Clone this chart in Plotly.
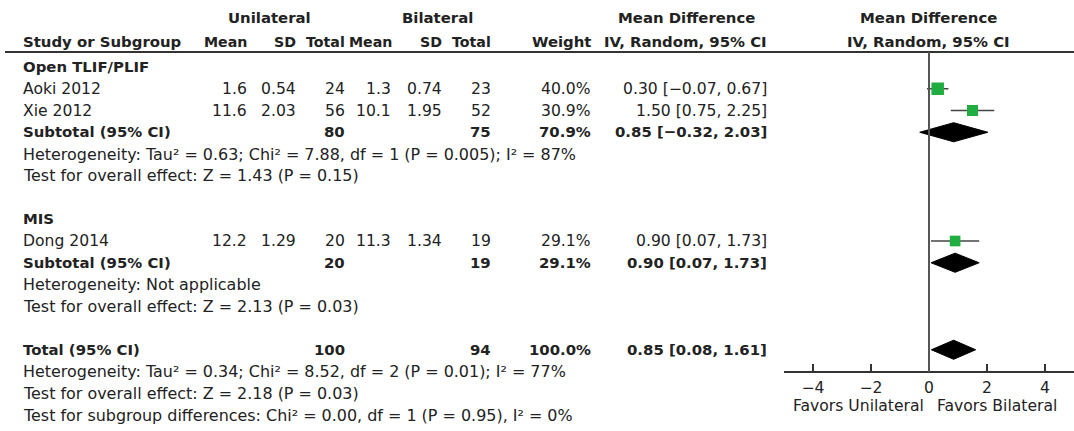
import plotly.graph_objects as go

# ---- study-level data -------------------------------------------------
studies = ["Aoki 2012", "Xie 2012", "Dong 2014"]
study_group = [0, 0, 1]
uni_mean = [1.6, 11.6, 12.2]
uni_sd = [0.54, 2.03, 1.29]
uni_n = [24, 56, 20]
bi_mean = [1.3, 10.1, 11.3]
bi_sd = [0.74, 1.95, 1.34]
bi_n = [23, 52, 19]
weight = [40.0, 30.9, 29.1]
md = [0.30, 1.50, 0.90]
md_lo = [-0.07, 0.75, 0.07]
md_hi = [0.67, 2.25, 1.73]

# ---- subgroup summaries -----------------------------------------------
groups = ["Open TLIF/PLIF", "MIS"]
sub_uni_n = [80, 20]
sub_bi_n = [75, 19]
sub_weight = [70.9, 29.1]
sub_md = [0.85, 0.90]
sub_lo = [-0.32, 0.07]
sub_hi = [2.03, 1.73]
sub_het = [
    "Heterogeneity: Tau² = 0.63; Chi² = 7.88, df = 1 (P = 0.005); I² = 87%",
    "Heterogeneity: Not applicable",
]
sub_test = [
    "Test for overall effect: Z = 1.43 (P = 0.15)",
    "Test for overall effect: Z = 2.13 (P = 0.03)",
]

# ---- overall summary --------------------------------------------------
total_uni_n = 100
total_bi_n = 94
total_weight = 100.0
total_md = 0.85
total_lo = 0.08
total_hi = 1.61
total_notes = [
    "Heterogeneity: Tau² = 0.34; Chi² = 8.52, df = 2 (P = 0.01); I² = 77%",
    "Test for overall effect: Z = 2.18 (P = 0.03)",
    "Test for subgroup differences: Chi² = 0.00, df = 1 (P = 0.95), I² = 0%",
]

axis_ticks = [-4, -2, 0, 2, 4]
favours = ["Favors Unilateral", "Favors Bilateral"]

# ---- layout constants -------------------------------------------------
W, H = 1074, 431
ROW0, PITCH = 67, 21.75          # pixel centre of first row, row pitch
FONT = "DejaVu Sans"
FS = 15.6                        # regular table text
FSN = 15.95                      # footnote lines
FSB = 14.9                       # bold text
FSC = 14.2                       # bold column names (Mean / SD / Total)
TXT = "#222222"
GREEN = "#1fae3f"

# column anchors (pixels)
COL_STUDY = 21
COL_UMEAN, COL_USD, COL_UN = 249, 298, 347
COL_BMEAN, COL_BSD, COL_BN = 393, 444, 493
COL_W = 593
COL_CI = 769

HEADER_LINE_Y = 52
AXIS_Y = 372


def px_x(p):
    return p / W


def px_y(p):
    return 1 - p / H


def fmt(v, nd):
    return f"{v:.{nd}f}".replace("-", "−")


def ci_text(m, lo, hi):
    return f"{fmt(m, 2)} [{fmt(lo, 2)}, {fmt(hi, 2)}]"


annotations = []


def text(x, row, s, anchor="left", bold=False, size=None):
    if size is None:
        size = FSB if bold else FS
    annotations.append(dict(
        x=px_x(x), xref="paper", y=row, yref="y",
        text=f"<b>{s}</b>" if bold else s,
        xanchor=anchor, yanchor="middle", showarrow=False,
        font=dict(family=FONT, size=size, color=TXT),
    ))


def header(x, ypix, s, anchor="center", size=FSB):
    annotations.append(dict(
        x=px_x(x), xref="paper", y=px_y(ypix), yref="paper",
        text=f"<b>{s}</b>", xanchor=anchor, yanchor="middle",
        showarrow=False, font=dict(family=FONT, size=size, color=TXT),
    ))


# header block
header(269, 18, "Unilateral")
header(437, 18, "Bilateral")
header(686, 18, "Mean Difference")
header(928, 18, "Mean Difference")
header(COL_STUDY, 42, "Study or Subgroup", "left")
header(COL_UMEAN, 42, "Mean", "right", FSC)
header(COL_USD, 42, "SD", "right", FSC)
header(COL_UN, 42, "Total", "right", FSC)
header(COL_BMEAN + 1, 42, "Mean", "right", FSC)
header(COL_BSD, 42, "SD", "right", FSC)
header(COL_BN, 42, "Total", "right", FSC)
header(COL_W, 42, "Weight", "right")
header(COL_CI, 42, "IV, Random, 95% CI", "right")
header(928, 42, "IV, Random, 95% CI")

# table body
study_rows = []
sub_rows = []
row = 0
for g, name in enumerate(groups):
    text(COL_STUDY, row, name, bold=True)
    row += 1
    for i, s in enumerate(studies):
        if study_group[i] != g:
            continue
        study_rows.append(row)
        text(COL_STUDY, row, s)
        text(COL_UMEAN, row, fmt(uni_mean[i], 1), "right")
        text(COL_USD, row, fmt(uni_sd[i], 2), "right")
        text(COL_UN, row, str(uni_n[i]), "right")
        text(COL_BMEAN, row, fmt(bi_mean[i], 1), "right")
        text(COL_BSD, row, fmt(bi_sd[i], 2), "right")
        text(COL_BN, row, str(bi_n[i]), "right")
        text(COL_W, row, f"{weight[i]:.1f}%", "right")
        text(COL_CI, row, ci_text(md[i], md_lo[i], md_hi[i]), "right")
        row += 1
    sub_rows.append(row)
    text(COL_STUDY, row, "Subtotal (95% CI)", bold=True)
    text(COL_UN, row, str(sub_uni_n[g]), "right", bold=True)
    text(COL_BN, row, str(sub_bi_n[g]), "right", bold=True)
    text(COL_W, row, f"{sub_weight[g]:.1f}%", "right", bold=True)
    text(COL_CI, row, ci_text(sub_md[g], sub_lo[g], sub_hi[g]), "right", bold=True)
    row += 1
    text(COL_STUDY, row, sub_het[g], size=FSN)
    row += 1
    text(COL_STUDY, row, sub_test[g], size=FSN)
    row += 2

total_row = row
text(COL_STUDY, row, "Total (95% CI)", bold=True)
text(COL_UN, row, str(total_uni_n), "right", bold=True)
text(COL_BN, row, str(total_bi_n), "right", bold=True)
text(COL_W, row, f"{total_weight:.1f}%", "right", bold=True)
text(COL_CI, row, ci_text(total_md, total_lo, total_hi), "right", bold=True)
for note in total_notes:
    row += 1
    text(COL_STUDY, row, note, size=FSN)

# favours labels under the axis
for cx, lab in zip([858, 997], favours):
    annotations.append(dict(x=px_x(cx), xref="paper", y=px_y(406), yref="paper",
                            text=lab, showarrow=False, xanchor="center",
                            yanchor="middle",
                            font=dict(family=FONT, size=FS, color=TXT)))

fig = go.Figure()

# confidence-interval whiskers
for r, lo, hi in zip(study_rows, md_lo, md_hi):
    fig.add_trace(go.Scatter(x=[lo, hi], y=[r, r], mode="lines",
                             line=dict(color="#444444", width=1.5),
                             hoverinfo="skip", showlegend=False))

# weighted squares
fig.add_trace(go.Scatter(
    x=md, y=study_rows, mode="markers",
    marker=dict(symbol="square", color=GREEN, opacity=1,
                size=[12.5 * (w / 40.0) ** 0.5 for w in weight],
                line=dict(width=0)),
    showlegend=False, hoverinfo="skip"))

# pooled diamonds
HALF = 0.44


def diamond(r, m, lo, hi):
    fig.add_trace(go.Scatter(
        x=[lo, m, hi, m, lo], y=[r, r - HALF, r, r + HALF, r],
        mode="lines", fill="toself", fillcolor="black",
        line=dict(color="black", width=1), showlegend=False, hoverinfo="skip"))


for g in range(len(groups)):
    diamond(sub_rows[g], sub_md[g], sub_lo[g], sub_hi[g])
diamond(total_row, total_md, total_lo, total_hi)

r_top = -ROW0 / PITCH
r_bot = (H - ROW0) / PITCH

shapes = [
    dict(type="line", xref="paper", yref="paper", x0=px_x(5), x1=1,
         y0=px_y(HEADER_LINE_Y), y1=px_y(HEADER_LINE_Y),
         line=dict(color="#333333", width=1.8)),
    dict(type="line", xref="x", yref="paper", x0=0, x1=0,
         y0=px_y(HEADER_LINE_Y), y1=px_y(AXIS_Y),
         line=dict(color="#555555", width=2)),
]

fig.update_layout(
    width=W, height=H,
    margin=dict(l=0, r=0, t=0, b=0),
    paper_bgcolor="white", plot_bgcolor="rgba(0,0,0,0)",
    xaxis=dict(domain=[px_x(784), 1], range=[-5, 5], anchor="free",
               position=px_y(AXIS_Y), showline=True, linecolor="#333333",
               linewidth=1.5, ticks="inside", ticklen=7, tickwidth=1.5,
               tickcolor="#333333", tickvals=axis_ticks, showgrid=False,
               zeroline=False, ticklabelstandoff=2,
               tickfont=dict(family=FONT, size=FS, color=TXT),
               fixedrange=True),
    yaxis=dict(domain=[0, 1], range=[r_bot, r_top], visible=False,
               fixedrange=True),
    annotations=annotations,
    shapes=shapes,
)

fig.write_html("out.html")
